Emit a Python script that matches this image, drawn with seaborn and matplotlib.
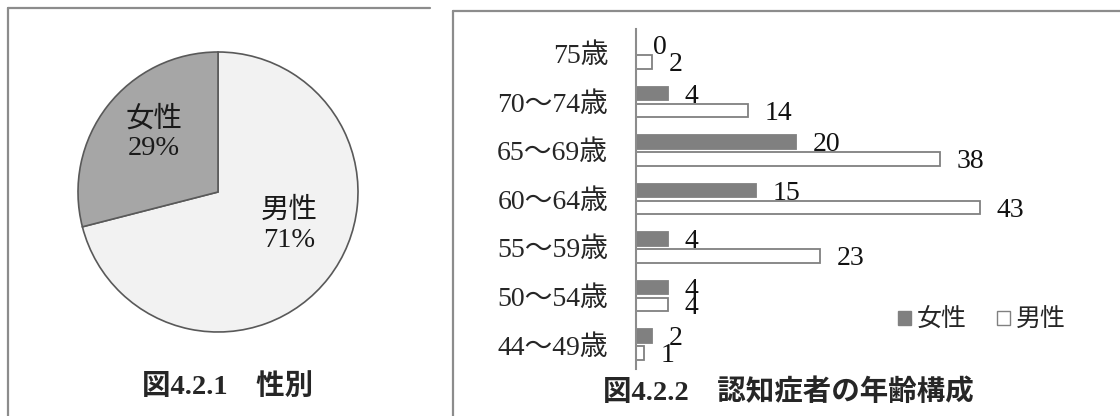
import matplotlib
matplotlib.use("Agg")
import matplotlib.pyplot as plt
from matplotlib.lines import Line2D
from matplotlib.patches import Patch
import pandas as pd
import seaborn as sns

# 性別の構成比(%)
sex_labels = ["男性", "女性"]
sex_share = [71, 29]

# 年齢階級別の認知症者数
age_groups = ["75歳", "70～74歳", "65～69歳", "60～64歳", "55～59歳", "50～54歳", "44～49歳"]
female_counts = [0, 4, 20, 15, 4, 4, 2]
male_counts = [2, 14, 38, 43, 23, 4, 1]

caption_left = "図4.2.1　性別"
caption_right = "図4.2.2　認知症者の年齢構成"

sns.set_theme(style="white")
plt.rcParams["font.family"] = ["Liberation Serif", "Noto Sans CJK JP"]

W, H = 1120, 416
fig = plt.figure(figsize=(W / 100, H / 100), dpi=100)


def fx(px):
    return px / W


def fy(py):
    return 1 - py / H


# panel frames
frame_kw = dict(color="#8c8c8c", lw=1.6, transform=fig.transFigure)
fig.add_artist(Line2D([fx(8), fx(430)], [fy(8), fy(8)], **frame_kw))
fig.add_artist(Line2D([fx(8), fx(8)], [fy(8), 0], **frame_kw))
fig.add_artist(Line2D([fx(453), 1], [fy(11), fy(11)], **frame_kw))
fig.add_artist(Line2D([fx(453), fx(453)], [fy(11), 0], **frame_kw))

# ---- pie: sex ratio ----
lim = 1.02
r_px = 140
side = 2 * r_px * lim
cx, cy = 218, 192
ax1 = fig.add_axes([fx(cx - side / 2), fy(cy + side / 2), side / W, side / H])
ax1.pie(
    sex_share,
    colors=["#f2f2f2", "#a6a6a6"],
    startangle=90,
    counterclock=False,
    wedgeprops=dict(edgecolor="#595959", linewidth=1.2),
)
ax1.set_xlim(-lim, lim)
ax1.set_ylim(-lim, lim)
label_pos = {"男性": (0.51, -0.24), "女性": (-0.46, 0.42)}
for lab, share in zip(sex_labels, sex_share):
    x, y = label_pos[lab]
    ax1.text(x, y, f"{lab}\n{share}%", ha="center", va="center",
             fontsize=20.5, linespacing=1.2, color="#1a1a1a")

# ---- bar chart: age composition ----
ax2 = fig.add_axes([fx(636), fy(369), fx(1100 - 636), 340 / H])
df = pd.DataFrame({
    "年齢": age_groups * 2,
    "性別": ["女性"] * len(age_groups) + ["男性"] * len(age_groups),
    "人数": female_counts + male_counts,
})
sns.barplot(
    data=df, x="人数", y="年齢", hue="性別",
    order=age_groups, hue_order=["女性", "男性"], orient="h",
    palette={"女性": "#808080", "男性": "#ffffff"}, saturation=1,
    width=0.7, gap=0.2, edgecolor="#808080", linewidth=1.3,
    errorbar=None, legend=False, ax=ax2,
)
ax2.set_xlim(0, 58)
ax2.set_ylim(len(age_groups) - 0.5, -0.5)
ax2.set_xticks([])
ax2.set_xlabel("")
ax2.set_ylabel("")
ax2.tick_params(axis="y", length=0, pad=20, labelsize=20)
for side_name in ["top", "right", "bottom"]:
    ax2.spines[side_name].set_visible(False)
ax2.spines["left"].set_color("#8c8c8c")
ax2.spines["left"].set_linewidth(1.5)

for cont in ax2.containers:
    anns = ax2.bar_label(cont, padding=12, fontsize=20, color="#111111")
    for a in anns:
        a.xyann = (a.xyann[0], -2)

handles = [Patch(facecolor="#808080", edgecolor="#808080"),
           Patch(facecolor="white", edgecolor="#808080")]
fig.legend(
    handles, ["女性", "男性"], loc="center",
    bbox_to_anchor=(fx(982), fy(320)), ncol=2, frameon=False,
    prop={"family": "Noto Sans CJK JP", "size": 18},
    handlelength=0.5, handleheight=0.5, handletextpad=0.25, columnspacing=1.2,
)

# captions
fig.text(fx(228), fy(386), caption_left, ha="center", va="center",
         fontsize=20.5, fontweight="bold")
fig.text(fx(788), fy(392), caption_right, ha="center", va="center",
         fontsize=20.5, fontweight="bold")

fig.savefig("out.png", dpi=100)
